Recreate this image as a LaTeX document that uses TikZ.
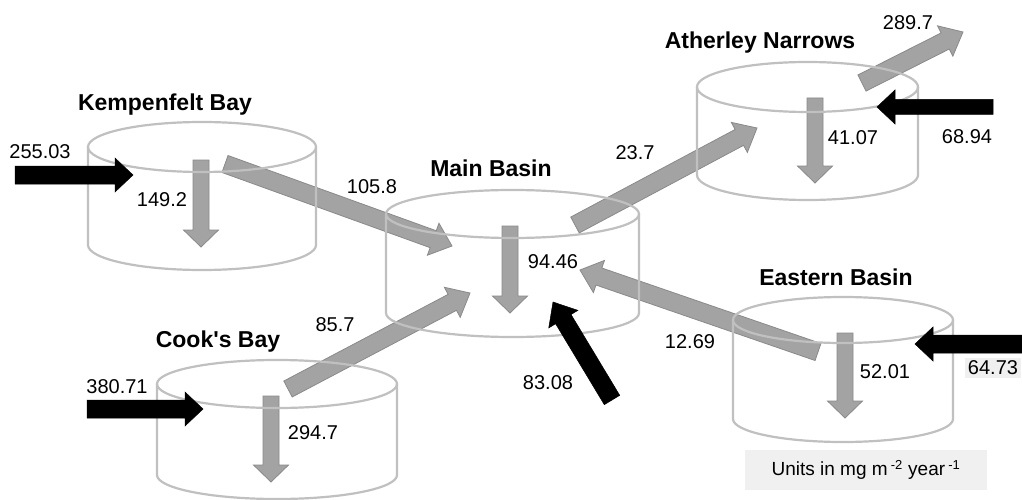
\documentclass[tikz,border=0pt]{standalone}
\usepackage{fontspec}
\setmainfont{Liberation Sans}
\usetikzlibrary{calc}
\definecolor{arrgray}{RGB}{163,163,163}
\definecolor{arredge}{RGB}{138,138,138}
\definecolor{cylgray}{RGB}{192,192,192}
\definecolor{boxgray}{RGB}{240,240,240}
\tikzset{
  cyl/.style={draw=cylgray, line width=2.2pt},
  grayarr/.style={fill=arrgray, draw=arredge, line width=0.8pt, line join=miter},
  blackarr/.style={fill=black, draw=black, line width=0.5pt},
  num/.style={font=\fontsize{20}{24}\selectfont, inner sep=1pt},
  title/.style={font=\fontsize{23}{27}\selectfont\bfseries, inner sep=1pt},
}
\newcommand\cylinder[5]{%
  \draw[cyl] (#1,#2) ellipse[x radius=#4pt, y radius=#5pt];
  \draw[cyl] (#1-#4,#2) -- (#1-#4,#3) arc[start angle=180,end angle=360,x radius=#4pt,y radius=#5pt] -- (#1+#4,#2);
}
% #1 style, #2 tail, #3 tip, #4 half shaft, #5 half head, #6 head length
\newcommand\blockarr[6]{%
  \coordinate (tmpC) at ($(#3)!#6!(#2)$);
  \path[#1] ($(#2)!#4!90:(#3)$) -- ($(tmpC)!#4!90:(#3)$) -- ($(tmpC)!#5!90:(#3)$) -- (#3)
    -- ($(tmpC)!#5!-90:(#3)$) -- ($(tmpC)!#4!-90:(#3)$) -- ($(#2)!#4!-90:(#3)$) -- cycle;
}
\begin{document}
\begin{tikzpicture}[x=1pt,y=-1pt]
\useasboundingbox[fill=white] (0,0) rectangle (1022,500);

% arrow end points
\coordinate (kmT) at (225,164);  \coordinate (kmH) at (452,246);
\coordinate (cmT) at (288,389);  \coordinate (cmH) at (470,293);
\coordinate (maT) at (575,225);  \coordinate (maH) at (757,128);
\coordinate (emT) at (818,352);  \coordinate (emH) at (580,270);
\coordinate (aoT) at (862,83);   \coordinate (aoH) at (963,32);
\coordinate (kdT) at (201,160);  \coordinate (kdH) at (201,247);
\coordinate (mdT) at (510,226);  \coordinate (mdH) at (510,313);
\coordinate (adT) at (815,98);   \coordinate (adH) at (815,183);
\coordinate (edT) at (845,333);  \coordinate (edH) at (845,418);
\coordinate (cdT) at (271,396);  \coordinate (cdH) at (271,482);
\coordinate (kiT) at (15,175);   \coordinate (kiH) at (133,175);
\coordinate (aiT) at (993,107);  \coordinate (aiH) at (877,107);
\coordinate (eiT) at (1022,344); \coordinate (eiH) at (915,344);
\coordinate (ciT) at (87,409);   \coordinate (ciH) at (203,409);
\coordinate (miT) at (612,400);  \coordinate (miH) at (553,302);

% gray flow arrows
\blockarr{grayarr}{kmT}{kmH}{9pt}{17pt}{20pt}
\blockarr{grayarr}{cmT}{cmH}{9pt}{17pt}{20pt}
\blockarr{grayarr}{maT}{maH}{9pt}{17pt}{20pt}
\blockarr{grayarr}{emT}{emH}{9pt}{17pt}{20pt}
\blockarr{grayarr}{aoT}{aoH}{9pt}{17pt}{20pt}
% gray settling arrows
\blockarr{grayarr}{kdT}{kdH}{8pt}{17.5pt}{17pt}
\blockarr{grayarr}{mdT}{mdH}{8pt}{17.5pt}{17pt}
\blockarr{grayarr}{adT}{adH}{8pt}{17.5pt}{17pt}
\blockarr{grayarr}{edT}{edH}{8pt}{17.5pt}{17pt}
\blockarr{grayarr}{cdT}{cdH}{8pt}{17.5pt}{17pt}

% cylinders
\cylinder{202}{147}{245}{114}{25}
\cylinder{512.5}{214}{313}{126.5}{24}
\cylinder{807.5}{87}{175}{110.5}{25}
\cylinder{843}{320}{419}{110}{23}
\cylinder{277}{384}{475}{120}{24}

% black input arrows
\blockarr{blackarr}{kiT}{kiH}{9pt}{17pt}{18pt}
\blockarr{blackarr}{aiT}{aiH}{7.5pt}{17pt}{18pt}
\blockarr{blackarr}{eiT}{eiH}{9pt}{17pt}{18pt}
\blockarr{blackarr}{ciT}{ciH}{9pt}{17pt}{18pt}
\blockarr{blackarr}{miT}{miH}{9pt}{17pt}{20pt}

% titles
\node[title] (tK) at (165,105) {Kempenfelt Bay};
\node[title] (tM) at (491,168) {Main Basin};
\node[title] (tA) at (760,43) {Atherley Narrows};
\node[title] (tE) at (836,277) {Eastern Basin};
\node[title] (tC) at (218,342) {Cook\textquotesingle s Bay};

% numbers
\node[num] (n1) at (40,152) {255.03};
\node[num] (n2) at (162,200) {149.2};
\node[num] (n3) at (372,187) {105.8};
\node[num] (n4) at (553,262) {94.46};
\node[num] (n5) at (548,383) {83.08};
\node[num] (n6) at (335,325) {85.7};
\node[num] (n7) at (117,387) {380.71};
\node[num] (n8) at (313,433) {294.7};
\node[num] (n9) at (635,153) {23.7};
\node[num] (n10) at (908,23) {289.7};
\node[num] (n11) at (853,138) {41.07};
\node[num] (n12) at (967,137) {68.94};
\node[num] (n13) at (690,342) {12.69};
\node[num] (n14) at (885,372) {52.01};
\node[num, fill=boxgray, inner xsep=3pt, inner ysep=3pt] (n15) at (993,368) {64.73};

% units box
\node[fill=boxgray, minimum width=242pt, minimum height=40pt, inner sep=0pt,
      font=\fontsize{19}{22}\selectfont] (units) at (866,470)
      {Units in mg m\,$^{\mbox{\fontsize{13}{14}\selectfont -2}}$ year\,$^{\mbox{\fontsize{13}{14}\selectfont -1}}$};
\end{tikzpicture}
\end{document}
